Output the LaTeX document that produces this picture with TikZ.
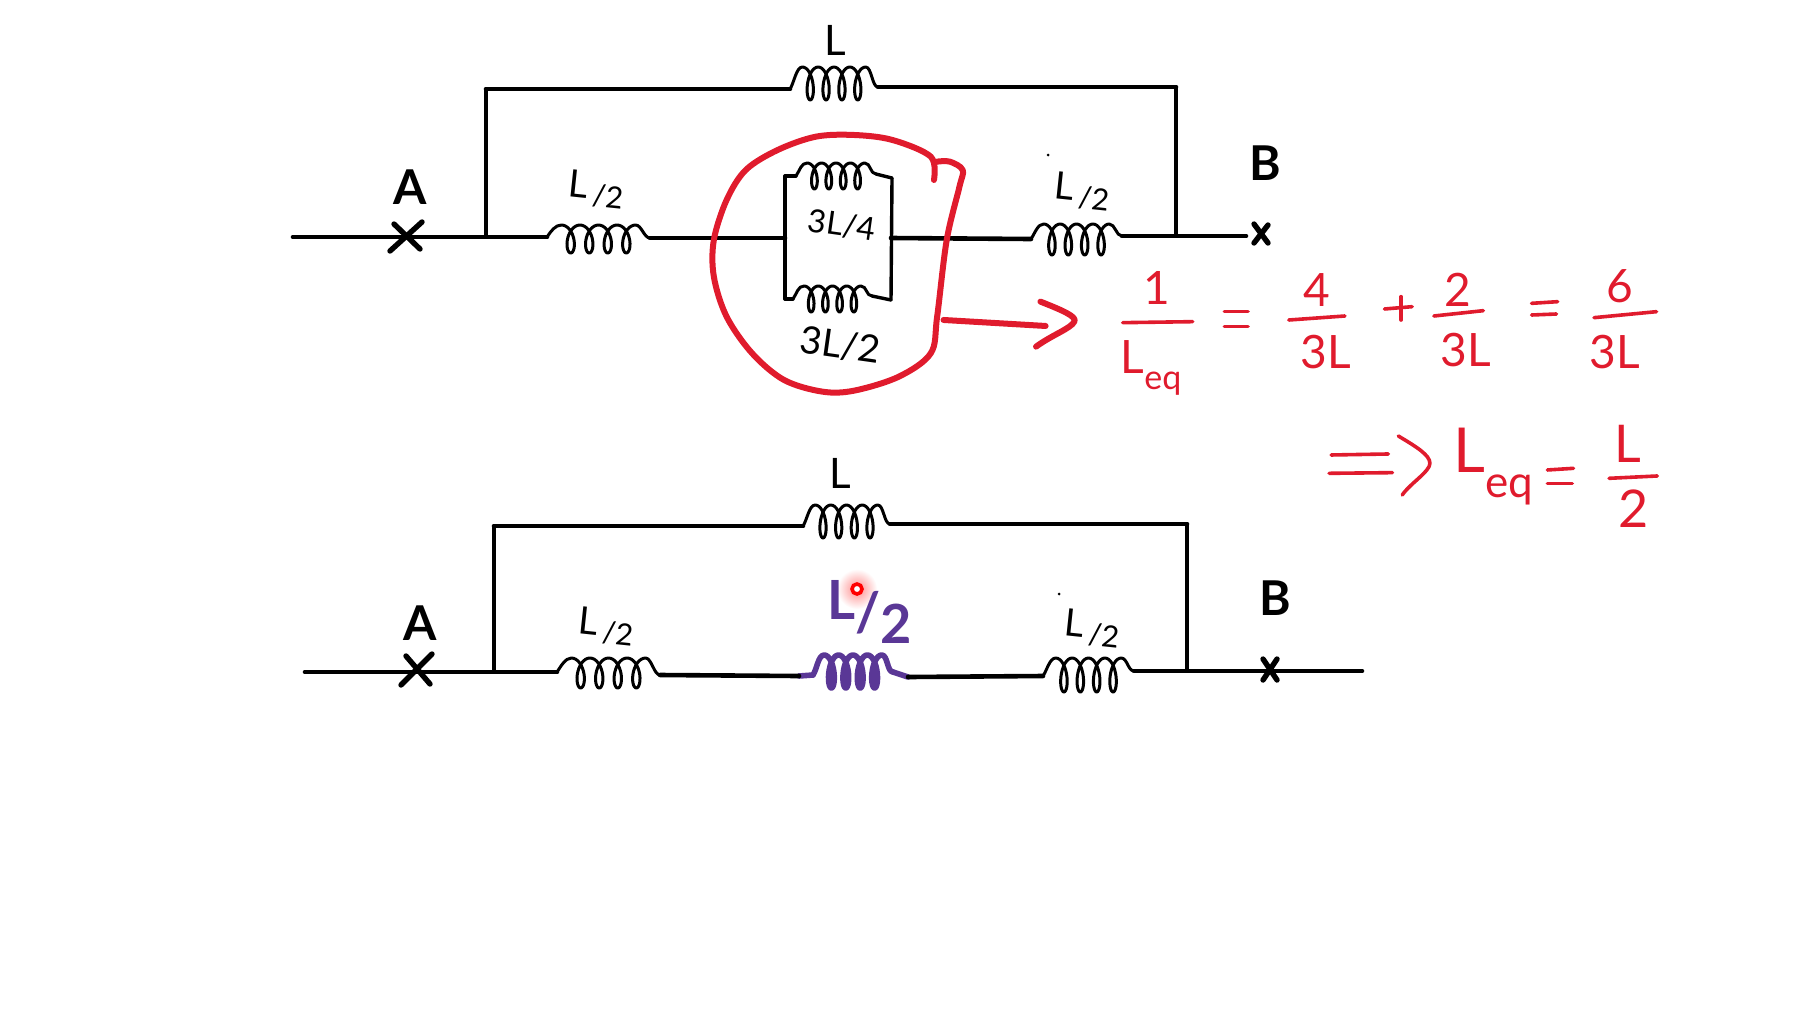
\documentclass[tikz,border=0pt]{standalone}
\usepackage{fontspec}
\setmainfont{Lato}
\definecolor{penred}{HTML}{E01B2D}
\definecolor{penpurple}{HTML}{5A3796}
\newcommand\Coil[8][coilline]{%
  \pgfmathsetmacro\xa{#3+0.14*(#5-#3)}%
  \pgfmathsetmacro\xb{#5-0.14*(#5-#3)}%
  \pgfmathsetmacro\pitch{(\xb-\xa)/4}%
  \pgfmathsetmacro\ymid{(#7+#8)/2}%
  \pgfmathsetmacro\yhalf{(#8-#7)/2}%
  \coordinate (#2-a) at (#3,#4);
  \coordinate (#2-b) at (#5,#6);
  \draw[#1] (#2-a) .. controls (#3+4,#4-6) and (\xa-6,#7) .. (\xa,#7)
    -- plot[samples=121,domain=180:1620,variable=\t]
       ({\xa+\pitch*((\t-180)/360)-0.42*\pitch*sin(\t)},{\ymid+\yhalf*cos(\t)})
    .. controls (\xb+6,#7) and (#5-6,#6) .. (#2-b);
}
\tikzset{
  wire/.style={line width=2.3pt,black,line cap=round},
  thinwire/.style={line width=1.7pt,black,line cap=round,line join=round},
  coilline/.style={line width=1.5pt,black,line cap=round,line join=round},
  purplecoil/.style={line width=2.8pt,penpurple,line cap=round,line join=round},
  crossline/.style={line width=2.7pt,black,line cap=round},
  redline/.style={line width=1.8pt,penred,line cap=round,line join=round},
  redbold/.style={line width=3pt,penred,line cap=round,line join=round},
  label/.style={black,inner sep=0pt,font=\fontsize{21}{21}\selectfont},
  halflabel/.style={black,inner sep=0pt,font=\fontsize{19}{19}\selectfont},
  smalllabel/.style={black,inner sep=0pt,font=\fontsize{16}{16}\selectfont},
  terminal/.style={black,inner sep=0pt,font=\fontsize{24}{24}\selectfont\bfseries},
  redtext/.style={penred,inner sep=0pt,font=\fontsize{23}{23}\selectfont},
  redmid/.style={penred,inner sep=0pt,font=\fontsize{26}{26}\selectfont},
  redbig/.style={penred,inner sep=0pt,font=\fontsize{31}{31}\selectfont},
  purpletext/.style={penpurple,inner sep=0pt,font=\fontsize{27}{27}\selectfont\bfseries},
}
\newcommand\half{L\kern0.14em\raisebox{-0.18em}{\fontsize{15}{15}\selectfont/2}}
\begin{document}
\begin{tikzpicture}[x=0.5pt,y=-0.5pt]
\useasboundingbox (0,0) rectangle (1799,1013);

% ---------- upper circuit ----------
\coordinate (ua) at (293,237);
\coordinate (uj) at (486,237);
\coordinate (utl) at (486,89);
\coordinate (utr) at (1176,87);
\coordinate (ujr) at (1176,236);
\coordinate (ue) at (1246,236);
\Coil{ucl}{790}{89}{878}{87}{67}{100}
\Coil{uc1}{547}{237}{650}{238}{225}{253}
\Coil{uc2}{1031}{239}{1122}{236}{224}{255}
\coordinate (ubl) at (785,238);
\coordinate (ubr) at (891,238);
\coordinate (ultop) at (785,176);
\coordinate (ulbot) at (785,299);
\coordinate (urtop) at (892,178);
\coordinate (urbot) at (891,300);
\Coil{ucu}{796}{176}{876}{174}{163}{189}
\Coil{ucd}{793}{299}{872}{296}{286}{312}
\draw[thinwire] (ultop) -- (ucu-a);
\draw[thinwire] (ucu-b) -- (urtop);
\draw[thinwire] (ulbot) -- (ucd-a);
\draw[thinwire] (ucd-b) -- (urbot);
\draw[wire] (ua) -- (uj) -- (uc1-a);
\draw[wire] (uc1-b) -- (ubl);
\draw[wire] (ubr) -- (uc2-a);
\draw[wire] (uc2-b) -- (ue);
\draw[wire] (utl) -- (ucl-a);
\draw[wire] (ucl-b) -- (utr);
\draw[thinwire] (uj) -- (utl);
\draw[thinwire] (utr) -- (ujr);
\draw[thinwire] (ultop) -- (ulbot);
\draw[thinwire] (urtop) -- (urbot);
\draw[crossline] (390,251) -- (422,222);
\draw[crossline] (394,224) -- (420,249);
\draw[crossline] (1254,224) -- (1268,243);
\draw[crossline] (1268,225) -- (1254,243);
\fill (1048,155) circle (1.5);
\node[label] (tL) at (835,40) {L};
\node[terminal] (tA) at (410,187) {A};
\node[terminal] (tB) at (1265,163) {B};
\node[halflabel,rotate=-6] (tL1) at (596,190) {\half};
\node[halflabel,rotate=-6] (tL2) at (1082,192) {\half};
\node[smalllabel,rotate=-8] (t34) at (842,225) {3L/4};
\node[halflabel,rotate=-8] (t32) at (840,345) {3L/2};

% ---------- red loop and arrow ----------
\begin{scope}[shift={(280,0)},xscale=0.638,yscale=0.3333]
\draw[redbold] plot[smooth,tension=0.55] coordinates {
  (1025,540) (1020,470) (960,420) (900,405) (840,410) (780,450) (730,510)
  (700,600) (680,720) (680,830) (700,950) (740,1060) (790,1140) (850,1175)
  (900,1172) (970,1130) (1020,1060) (1030,950) (1045,720) (1065,560)
  (1070,510) (1050,485) (1030,485)};
\draw[redbold] (1040,960) -- (1200,978);
\draw[redbold] (1192,905) .. controls (1225,930) and (1250,950) .. (1245,965)
  .. controls (1240,985) and (1210,1005) .. (1185,1040);
\end{scope}

% ---------- equations ----------
\begin{scope}[shift={(1080,240)},xscale=0.3954,yscale=0.3333]
\draw[redline] (108,248) -- (285,245);
\draw[redline] (365,215) -- (425,215);
\draw[redline] (365,260) -- (425,260);
\draw[redline] (528,240) -- (670,228);
\draw[redline] (770,207) -- (840,200);
\draw[redline] (812,170) -- (812,240);
\draw[redline] (895,228) -- (1020,212);
\draw[redline] (1142,225) -- (1205,222);
\draw[redline] (1142,190) -- (1208,185);
\draw[redline] (1300,233) -- (1458,215);
\draw[redline] (635,645) -- (780,642);
\draw[redline] (630,700) -- (790,698);
\draw[redline] (805,588) .. controls (850,620) and (885,645) .. (885,670)
  .. controls (885,695) and (835,730) .. (815,765);
\draw[redline] (1182,690) -- (1248,685);
\draw[redline] (1182,730) -- (1245,730);
\draw[redline] (1338,715) -- (1460,708);
\node[redtext] (e1) at (195,145) {1};
\node[redtext] (e2) at (180,385) {L\raisebox{-0.35em}{\fontsize{17}{17}\selectfont eq}};
\node[redtext] (e3) at (600,150) {4};
\node[redtext] (e4) at (622,335) {3L};
\node[redtext] (e5) at (955,150) {2};
\node[redtext] (e6) at (975,330) {3L};
\node[redtext] (e7) at (1365,140) {6};
\node[redtext] (e8) at (1352,335) {3L};
\node[redbig] (e9) at (1045,680) {L\raisebox{-0.4em}{\fontsize{22}{22}\selectfont eq}};
\node[redmid] (e10) at (1385,612) {L};
\node[redmid] (e11) at (1400,805) {2};
\end{scope}

% ---------- lower circuit ----------
\coordinate (la) at (305,672);
\coordinate (lj) at (494,672);
\coordinate (ltl) at (494,526);
\coordinate (ltr) at (1187,524);
\coordinate (ljr) at (1187,671);
\coordinate (le) at (1362,671);
\coordinate (lpl) at (799,676);
\coordinate (lpr) at (908,677);
\Coil{lcl}{803}{526}{890}{524}{505}{538}
\Coil{lc1}{557}{672}{660}{675}{658}{688}
\Coil{lc2}{1043}{676}{1134}{671}{658}{692}
\Coil[purplecoil]{lcp}{813}{675}{893}{672}{655}{688}
\draw[purplecoil] (lpl) -- (lcp-a);
\draw[purplecoil] (lcp-b) -- (lpr);
\draw[wire] (la) -- (lj) -- (lc1-a);
\draw[wire] (lc1-b) -- (lpl);
\draw[wire] (lpr) -- (lc2-a);
\draw[wire] (lc2-b) -- (le);
\draw[wire] (ltl) -- (lcl-a);
\draw[wire] (lcl-b) -- (ltr);
\draw[thinwire] (lj) -- (ltl);
\draw[thinwire] (ltr) -- (ljr);
\draw[crossline] (401,685) -- (432,654);
\draw[crossline] (406,656) -- (430,684);
\draw[crossline] (1263,659) -- (1277,680);
\draw[crossline] (1277,659) -- (1263,680);
\fill (1059,594) circle (1.5);
\node[label] (bL) at (840,473) {L};
\node[terminal] (bA) at (420,623) {A};
\node[terminal] (bB) at (1275,598) {B};
\node[halflabel,rotate=-6] (bL1) at (606,627) {\half};
\node[halflabel,rotate=-6] (bL2) at (1092,629) {\half};
\shade[inner color=red!45,outer color=white] (857,589) circle (20);
\node[purpletext] (bLp) at (870,612) {\raisebox{0.22em}{L}/\raisebox{-0.22em}{2}};
\draw[line width=1.8pt,red,fill=white] (857,589) circle (5);
\end{tikzpicture}
\end{document}
